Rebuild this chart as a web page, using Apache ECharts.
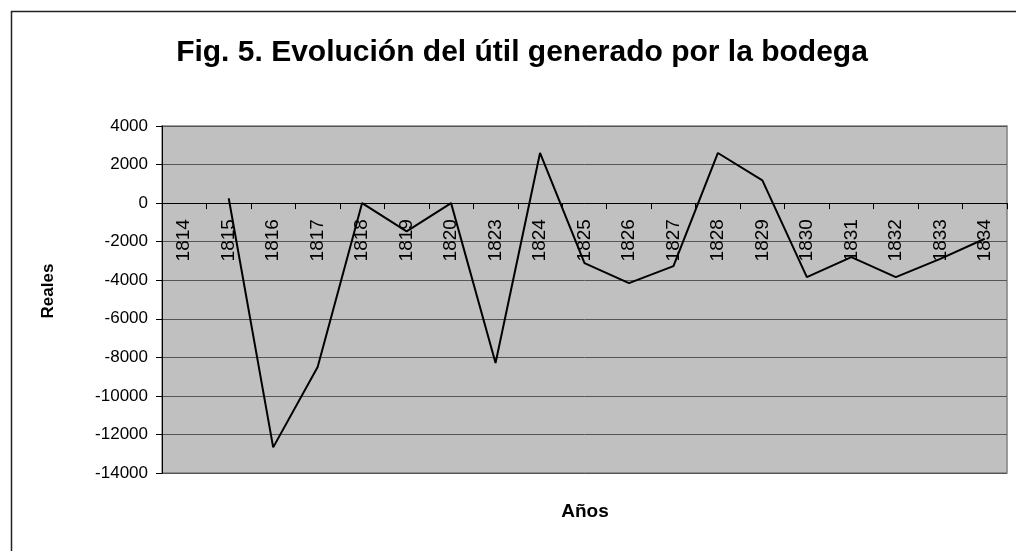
<!DOCTYPE html>
<html>
<head>
<meta charset="utf-8">
<script src="https://cdn.jsdelivr.net/npm/echarts@6/dist/echarts.min.js"></script>
<style>
html,body{margin:0;padding:0;background:#fff;}
#chart{width:1016px;height:551px;}
</style>
</head>
<body>
<div id="chart"></div>
<script>
const years = ['1814','1815','1816','1817','1818','1819','1820','1823','1824','1825','1826','1827','1828','1829','1830','1831','1832','1833','1834'];
const util = [null, 250, -12670, -8500, 0, -1470, 0, -8290, 2600, -3110, -4150, -3270, 2600, 1180, -3840, -2800, -3840, -2890, -1850];
const yTicks = { min: -14000, max: 4000, interval: 2000 };
const titleText = 'Fig. 5. Evolución del útil generado por la bodega';
const yName = 'Reales';
const xName = 'Años';

const gridTop = 126, gridHeight = 347;
// place the category axis on the value 0 line
const zeroOffset = -gridHeight * (0 - yTicks.min) / (yTicks.max - yTicks.min);

const chart = echarts.init(document.getElementById('chart'));
const font = '"Liberation Sans", Arial, sans-serif';
chart.setOption({
  animation: false,
  textStyle: { fontFamily: font },
  title: {
    text: titleText,
    left: 517, top: 33, textAlign: 'center',
    textStyle: { fontFamily: font, fontSize: 30, fontWeight: 'bold', color: '#000' }
  },
  graphic: [{
    type: 'rect', left: 9, top: 9,
    shape: { width: 1200, height: 700 },
    style: { fill: 'none', stroke: '#222', lineWidth: 1.5 },
    silent: true, z: -1
  }, {
    type: 'text', x: 585, y: 512,
    style: { text: xName, font: 'bold 19px ' + font, fill: '#000', textAlign: 'center', textVerticalAlign: 'middle' },
    silent: true
  }, {
    type: 'text', x: 48, y: 291, rotation: Math.PI / 2,
    style: { text: yName, font: 'bold 17px ' + font, fill: '#000', textAlign: 'center', textVerticalAlign: 'middle' },
    silent: true
  }],
  grid: {
    left: 162, top: gridTop, width: 845, height: gridHeight,
    containLabel: false, outerBoundsMode: 'none',
    show: true, backgroundColor: '#C0C0C0', borderColor: '#808080', borderWidth: 1.5
  },
  xAxis: {
    type: 'category', data: years, boundaryGap: true,
    position: 'bottom', offset: zeroOffset,
    axisLine: { onZero: false, lineStyle: { color: '#000', width: 1 } },
    axisTick: { show: true, interval: 0, length: 6, lineStyle: { color: '#000' } },
    axisLabel: { interval: 0, rotate: 90, margin: 16, fontSize: 19, color: '#000', fontFamily: font }
  },
  yAxis: {
    type: 'value', min: yTicks.min, max: yTicks.max, interval: yTicks.interval,
    axisLine: { show: true, lineStyle: { color: '#000', width: 1 } },
    axisTick: { show: true, length: 6, lineStyle: { color: '#000' } },
    axisLabel: { fontSize: 17, color: '#000', margin: 14, fontFamily: font, formatter: v => String(v) },
    splitLine: { show: true, lineStyle: { color: '#555', width: 1 } }
  },
  series: [{
    type: 'line', data: util, showSymbol: false, connectNulls: false,
    lineStyle: { color: '#000', width: 2 },
    emphasis: { disabled: true }
  }]
});
</script>
</body>
</html>
